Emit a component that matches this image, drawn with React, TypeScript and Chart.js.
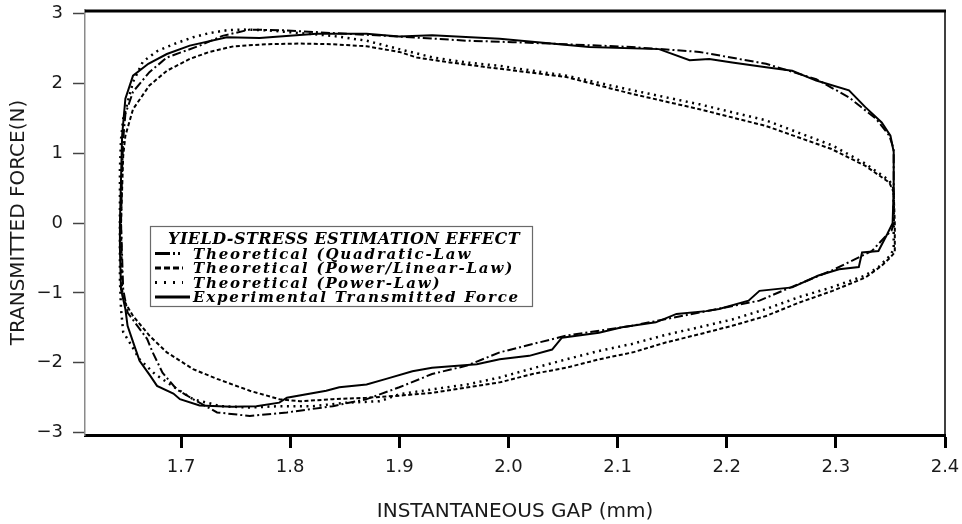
import React, { useEffect, useRef } from "react";
import { Chart, registerables } from "chart.js";

Chart.register(...registerables);

const WIDTH = 962;
const HEIGHT = 524;

// axis ticks
const xTickValues = [1.7, 1.8, 1.9, 2.0, 2.1, 2.2, 2.3, 2.4];
const yTickValues = [-3, -2, -1, 0, 1, 2, 3];

const xTitle = "INSTANTANEOUS GAP (mm)";
const yTitle = "TRANSMITTED FORCE(N)";
const legendTitle = "YIELD-STRESS ESTIMATION EFFECT";

const seriesLabels = [
  "Theoretical (Quadratic-Law",
  "Theoretical (Power/Linear-Law)",
  "Theoretical (Power-Law)",
  "Experimental Transmitted Force",
];

// Theoretical, quadratic law: gap (mm) and force (N), one closed cycle
const quadraticGap = [
  1.645, 1.646, 1.647, 1.649, 1.656, 1.671, 1.687, 1.717, 1.738, 1.763, 1.793, 1.839, 1.9, 1.962, 2.004,
  2.053, 2.113, 2.175, 2.236, 2.282, 2.312, 2.337, 2.349, 2.353, 2.353, 2.351,
  2.346, 2.333, 2.296, 2.251, 2.23, 2.175, 2.113, 2.053, 1.992, 1.962, 1.93, 1.9, 1.87, 1.839, 1.797,
  1.763, 1.733, 1.711, 1.696, 1.683, 1.674, 1.669, 1.66, 1.651, 1.647, 1.645,
];
const quadraticForce = [
  0, 0.77, 1.2, 1.56, 1.88, 2.16, 2.37, 2.54, 2.68, 2.77, 2.76, 2.72, 2.67, 2.61, 2.59,
  2.56, 2.52, 2.45, 2.28, 2.06, 1.8, 1.49, 1.25, 1.06, 0, -0.11,
  -0.18, -0.4, -0.68, -0.97, -1.11, -1.28, -1.47, -1.61, -1.85, -2.04, -2.16, -2.35, -2.52, -2.62, -2.71,
  -2.76, -2.71, -2.52, -2.38, -2.14, -1.85, -1.66, -1.47, -1.28, -0.95, 0,
];

// Theoretical, power/linear law
const powerLinearGap = [
  1.645, 1.647, 1.649, 1.656, 1.671, 1.687, 1.708, 1.726, 1.748, 1.778, 1.809, 1.839, 1.87, 1.885, 1.9,
  1.916, 1.946, 1.976, 2.007, 2.053, 2.113, 2.175, 2.236, 2.296, 2.327, 2.349, 2.353, 2.354, 2.354,
  2.35, 2.342, 2.327, 2.297, 2.266, 2.236, 2.205, 2.175, 2.144, 2.114, 2.083, 2.053, 2.022, 1.992,
  1.93, 1.9, 1.87, 1.839, 1.809, 1.79, 1.763, 1.733, 1.711, 1.687, 1.671, 1.656, 1.647, 1.646, 1.645,
];
const powerLinearForce = [
  0, 0.96, 1.25, 1.63, 1.97, 2.18, 2.35, 2.45, 2.53, 2.56, 2.57, 2.56, 2.53, 2.49, 2.45,
  2.37, 2.3, 2.24, 2.18, 2.09, 1.85, 1.63, 1.39, 1.06, 0.82, 0.58, 0.44, 0, -0.42,
  -0.49, -0.61, -0.78, -0.97, -1.14, -1.33, -1.47, -1.59, -1.71, -1.85, -1.95, -2.07, -2.16, -2.28,
  -2.43, -2.47, -2.5, -2.52, -2.55, -2.52, -2.4, -2.23, -2.09, -1.85, -1.61, -1.33, -1.09, -0.95, 0,
];

// Theoretical, power law
const powerGap = [
  1.644, 1.644, 1.645, 1.647, 1.656, 1.665, 1.678, 1.693, 1.711, 1.726, 1.742, 1.756, 1.778, 1.809, 1.839,
  1.87, 1.9, 1.931, 1.961, 1.992, 2.053, 2.114, 2.175, 2.236, 2.297, 2.327, 2.349, 2.353, 2.353, 2.353,
  2.35, 2.339, 2.327, 2.296, 2.266, 2.236, 2.205, 2.175, 2.144, 2.113, 2.083, 2.053, 2.022, 1.992,
  1.962, 1.93, 1.9, 1.882, 1.852, 1.821, 1.79, 1.763, 1.736, 1.711, 1.693, 1.676, 1.662, 1.653, 1.647,
  1.645, 1.644, 1.644,
];
const powerForce = [
  0, 0.77, 1.2, 1.49, 2.02, 2.31, 2.46, 2.56, 2.66, 2.72, 2.76, 2.77, 2.76, 2.72, 2.68,
  2.61, 2.49, 2.37, 2.3, 2.25, 2.11, 1.9, 1.7, 1.47, 1.11, 0.85, 0.61, 0.49, 0, -0.37,
  -0.46, -0.63, -0.75, -0.92, -1.06, -1.23, -1.38, -1.49, -1.6, -1.73, -1.83, -1.95, -2.08, -2.21,
  -2.31, -2.38, -2.45, -2.55, -2.57, -2.62, -2.62, -2.64, -2.62, -2.52, -2.34, -2.16, -1.95, -1.71, -1.56,
  -1.23, -0.8, 0,
];

// Experimental transmitted force
const experimentalGap = [
  1.644, 1.646, 1.649, 1.656, 1.67, 1.687, 1.708, 1.742, 1.772, 1.824, 1.87, 1.9, 1.93, 1.992, 2.074,
  2.138, 2.166, 2.184, 2.205, 2.236, 2.26, 2.282, 2.312, 2.327, 2.342, 2.35, 2.353, 2.353, 2.352,
  2.347, 2.339, 2.324, 2.321, 2.303, 2.284, 2.26, 2.23, 2.22, 2.193, 2.181, 2.154, 2.135, 2.104, 2.083,
  2.049, 2.04, 2.019, 1.992, 1.971, 1.93, 1.912, 1.888, 1.87, 1.845, 1.833, 1.797, 1.79, 1.769, 1.747,
  1.717, 1.699, 1.693, 1.678, 1.672, 1.662, 1.656, 1.651, 1.649, 1.645, 1.644, 1.644,
];
const experimentalForce = [
  0, 1.25, 1.78, 2.11, 2.28, 2.42, 2.54, 2.66, 2.65, 2.71, 2.71, 2.67, 2.69, 2.64, 2.52,
  2.49, 2.33, 2.35, 2.3, 2.23, 2.18, 2.04, 1.9, 1.66, 1.44, 1.25, 1.02, 0.49, 0,
  -0.16, -0.4, -0.42, -0.63, -0.66, -0.75, -0.92, -0.97, -1.11, -1.23, -1.26, -1.3, -1.42, -1.49, -1.57,
  -1.64, -1.81, -1.9, -1.95, -2.02, -2.07, -2.12, -2.23, -2.31, -2.35, -2.4, -2.5, -2.57, -2.62, -2.63,
  -2.61, -2.52, -2.44, -2.33, -2.19, -1.97, -1.7, -1.47, -1.23, -0.95, -0.37, 0,
];

const toPoints = (gap: number[], force: number[]) => gap.map((g, i) => ({ x: g, y: force[i] }));

const TICK_FONT = { family: '"DejaVu Sans", sans-serif', size: 18, weight: "normal" as const };
const TITLE_FONT = { family: '"DejaVu Sans", sans-serif', size: 20, weight: "normal" as const };
const TEXT_COLOR = "#1a1a1a";

// dash patterns used in the small line samples of the legend box
const legendDashes: number[][] = [[15, 3, 2, 3, 2, 3], [6, 3], [2, 7], []];

function drawSpaced(ctx: CanvasRenderingContext2D, text: string, x: number, y: number, spacing: number) {
  (ctx as any).letterSpacing = `${spacing}px`;
  ctx.fillText(text, x, y);
  (ctx as any).letterSpacing = "0px";
}

function spacingFor(ctx: CanvasRenderingContext2D, text: string, width: number) {
  (ctx as any).letterSpacing = "0px";
  const w = ctx.measureText(text).width;
  return (width - w) / text.length;
}

const frameAndLegend = {
  id: "frameAndLegend",
  afterDatasetsDraw(chart: any) {
    const { ctx, chartArea: ca } = chart;
    ctx.save();
    // top and right frame lines
    ctx.strokeStyle = "#000";
    ctx.lineWidth = 3;
    ctx.beginPath();
    ctx.moveTo(ca.left, ca.top + 1);
    ctx.lineTo(ca.right + 1, ca.top + 1);
    ctx.stroke();
    ctx.lineWidth = 1.5;
    ctx.beginPath();
    ctx.moveTo(ca.right, ca.top);
    ctx.lineTo(ca.right, ca.bottom);
    ctx.stroke();

    // legend box
    const left = ca.left + 65;
    const top = ca.top + 216;
    const w = 382;
    const h = 80;
    ctx.fillStyle = "#fff";
    ctx.fillRect(left, top, w, h);
    ctx.strokeStyle = "#6a6a6a";
    ctx.lineWidth = 1.2;
    ctx.strokeRect(left + 0.5, top + 0.5, w, h);

    ctx.fillStyle = "#000";
    ctx.textBaseline = "alphabetic";
    ctx.textAlign = "left";
    ctx.font = 'italic bold 16px "DejaVu Serif", serif';
    const titleSpacing = spacingFor(ctx, legendTitle, 352);
    drawSpaced(ctx, legendTitle, left + 18, top + 18, titleSpacing);

    ctx.font = 'italic bold 15px "DejaVu Serif", serif';
    const datasets = chart.data.datasets;
    const entrySpacing = spacingFor(ctx, datasets[datasets.length - 1].label, 327);
    datasets.forEach((ds: any, i: number) => {
      const base = top + 32.5 + i * 14.5;
      const sy = base - 5;
      ctx.strokeStyle = "#000";
      ctx.lineWidth = 3;
      ctx.lineCap = "butt";
      ctx.setLineDash(legendDashes[i]);
      ctx.beginPath();
      ctx.moveTo(left + 5, sy);
      ctx.lineTo(left + (legendDashes[i].length ? 33 : 40), sy);
      ctx.stroke();
      ctx.setLineDash([]);
      drawSpaced(ctx, ds.label, left + 43, base, entrySpacing);
    });
    ctx.restore();
  },
};

// keep the plot box fixed: no extra room reserved for end tick labels
const noEdgePadding = (s: any) => {
  s.paddingLeft = 0;
  s.paddingRight = 0;
  s.paddingTop = 0;
  s.paddingBottom = 0;
};

export default function App() {
  const ref = useRef<HTMLCanvasElement | null>(null);

  useEffect(() => {
    if (!ref.current) return;
    const line = (label: string, data: any[], dash: number[], width: number) => ({
      label,
      data,
      showLine: true,
      borderColor: "#000",
      backgroundColor: "#000",
      borderWidth: width,
      borderDash: dash,
      borderCapStyle: "butt" as const,
      pointRadius: 0,
      tension: 0,
      fill: false,
    });

    const chart = new Chart(ref.current, {
      type: "scatter",
      data: {
        datasets: [
          line(seriesLabels[0], toPoints(quadraticGap, quadraticForce), [9, 3, 2, 3], 2),
          line(seriesLabels[1], toPoints(powerLinearGap, powerLinearForce), [4, 2.5], 2),
          line(seriesLabels[2], toPoints(powerGap, powerForce), [2, 4.5], 2.5),
          line(seriesLabels[3], toPoints(experimentalGap, experimentalForce), [], 2),
        ],
      },
      options: {
        responsive: false,
        animation: false,
        devicePixelRatio: 1,
        layout: { padding: { left: 0, right: 17, top: 10, bottom: 0 } },
        plugins: { legend: { display: false }, tooltip: { enabled: false }, title: { display: false } },
        scales: {
          x: {
            type: "linear",
            min: 1.612,
            max: 2.4,
            afterBuildTicks: (s: any) => {
              s.ticks = xTickValues.map((v) => ({ value: v }));
            },
            afterFit: (s: any) => {
              s.height = 89;
              noEdgePadding(s);
            },
            ticks: {
              font: TICK_FONT,
              color: TEXT_COLOR,
              padding: 9,
              maxRotation: 0,
              callback: (v: any) => Number(v).toFixed(1),
            },
            grid: {
              drawOnChartArea: false,
              drawTicks: true,
              tickLength: 13,
              tickWidth: 3,
              tickColor: "#000",
            },
            border: { display: true, color: "#000", width: 3 },
            title: {
              display: true,
              text: xTitle,
              font: TITLE_FONT,
              color: TEXT_COLOR,
              padding: { top: 0, bottom: 0 },
            },
          },
          y: {
            type: "linear",
            min: -3.033,
            max: 3.05,
            afterBuildTicks: (s: any) => {
              s.ticks = yTickValues.map((v) => ({ value: v }));
            },
            afterFit: (s: any) => {
              s.width = 85;
              noEdgePadding(s);
            },
            ticks: {
              font: TICK_FONT,
              color: TEXT_COLOR,
              padding: 10,
              callback: (v: any) => (Number(v) < 0 ? "\u2212" + Math.abs(Number(v)) : String(v)),
            },
            grid: {
              drawOnChartArea: false,
              drawTicks: true,
              tickLength: 12,
              tickWidth: 1.5,
              tickColor: "#444",
            },
            border: { display: true, color: "#8a8a8a", width: 1.5 },
            title: {
              display: true,
              text: yTitle,
              font: TITLE_FONT,
              color: TEXT_COLOR,
              padding: { top: 7, bottom: 0 },
            },
          },
        },
      },
      plugins: [frameAndLegend],
    });
    return () => chart.destroy();
  }, []);

  return (
    <div style={{ position: "fixed", left: 0, top: 0, width: WIDTH, height: HEIGHT, background: "#fff" }}>
      <canvas ref={ref} width={WIDTH} height={HEIGHT} style={{ width: WIDTH, height: HEIGHT, display: "block" }} />
    </div>
  );
}
